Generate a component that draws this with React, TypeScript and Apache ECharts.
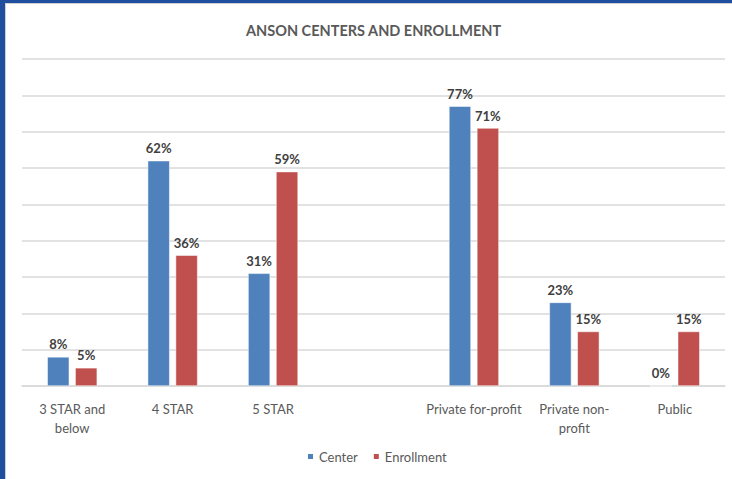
import React, { useEffect, useRef } from "react";
import * as echarts from "echarts";

const categories = ["3 STAR and\nbelow", "4 STAR", "5 STAR", "", "Private for-profit", "Private non-\nprofit", "Public"];
const centerValues: (number | string)[] = [8, 62, 31, "-", 77, 23, 0];
const enrollmentValues: (number | string)[] = [5, 36, 59, "-", 71, 15, 15];
const seriesNames = ["Center", "Enrollment"];
const titleText = "ANSON CENTERS AND ENROLLMENT";

export default function App() {
  const ref = useRef<HTMLDivElement>(null);
  useEffect(() => {
    const chart = echarts.init(ref.current!, undefined, { renderer: "svg" });
    const font = "Lato, 'Open Sans', sans-serif";
    const label = {
      show: true,
      position: "top" as const,
      distance: 6,
      formatter: (p: any) => p.value + "%",
      color: "#404040",
      fontWeight: "bold" as const,
      fontSize: 13,
      fontFamily: font,
    };
    chart.setOption({
      animation: false,
      backgroundColor: "#ffffff",
      textStyle: { fontFamily: font },
      title: {
        text: titleText,
        left: 241,
        top: 18,
        textStyle: { color: "#595959", fontSize: 14.5, fontWeight: "bold", fontFamily: font },
      },
      legend: {
        bottom: 11,
        left: 301,
        itemWidth: 7,
        itemHeight: 7,
        itemGap: 14,
        icon: "rect",
        textStyle: { color: "#595959", fontSize: 13, fontFamily: font },
        data: seriesNames,
      },
      grid: { left: 22, right: 7, top: 59, bottom: 93 },
      xAxis: {
        type: "category",
        data: categories,
        axisLine: { lineStyle: { color: "#D9D9D9", width: 1.5 } },
        axisTick: { show: false },
        axisLabel: {
          color: "#595959",
          fontSize: 13,
          fontFamily: font,
          margin: 13,
          lineHeight: 19,
          interval: 0,
        },
      },
      yAxis: {
        type: "value",
        min: 0,
        max: 90,
        interval: 10,
        axisLabel: { show: false },
        axisLine: { show: false },
        axisTick: { show: false },
        splitLine: { lineStyle: { color: "#D9D9D9", width: 1.5 } },
      },
      graphic: [
        { type: "rect", shape: { x: 0, y: 0, width: 5, height: 479 }, style: { fill: "#1F4E9E" } },
        { type: "rect", shape: { x: 0, y: 0, width: 732, height: 3 }, style: { fill: "#1F4E9E" } },
        { type: "rect", shape: { x: 5, y: 3, width: 1, height: 476 }, style: { fill: "#D0D0D0" } },
        { type: "rect", shape: { x: 5, y: 3, width: 727, height: 1 }, style: { fill: "#D0D0D0" } },
      ],
      series: [
        {
          name: seriesNames[0],
          type: "bar",
          data: centerValues,
          barWidth: 22,
          barGap: "27%",
          itemStyle: { color: "#4F81BD", borderColor: "#ffffff", borderWidth: 0.5 },
          label,
        },
        {
          name: seriesNames[1],
          type: "bar",
          data: enrollmentValues,
          barWidth: 22,
          itemStyle: { color: "#C0504D", borderColor: "#ffffff", borderWidth: 0.5 },
          label,
        },
      ],
    });
    return () => chart.dispose();
  }, []);
  return (
    <div style={{ position: "fixed", left: 0, top: 0, width: 732, height: 479 }}>
      <div ref={ref} style={{ width: 732, height: 479 }} />
    </div>
  );
}
